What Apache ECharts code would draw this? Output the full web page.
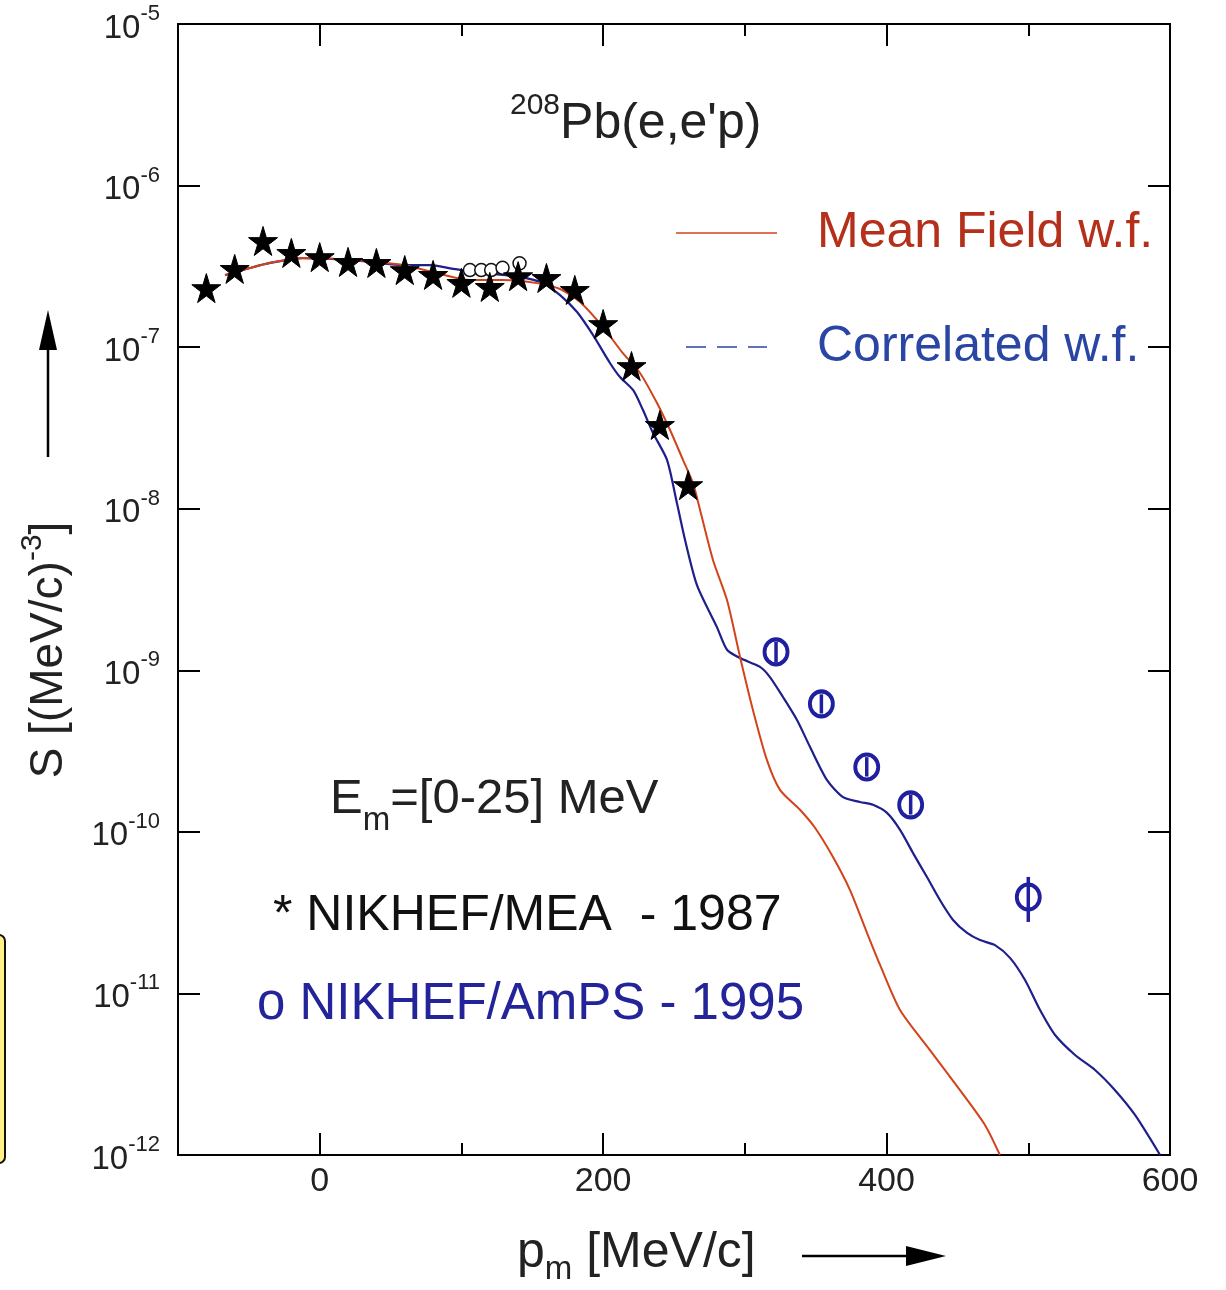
<!DOCTYPE html>
<html>
<head>
<meta charset="utf-8">
<script src="https://cdn.jsdelivr.net/npm/echarts@6/dist/echarts.min.js"></script>
<style>
html,body{margin:0;padding:0;background:#fff;}
#chart{width:1226px;height:1290px;}
</style>
</head>
<body>
<div id="chart"></div>
<script>
// ---------- data ----------
const xTickMajor = [0, 200, 400, 600];
const xTickMinor = [100, 300, 500];
const yTicks = [1e-12, 1e-11, 1e-10, 1e-9, 1e-8, 1e-7, 1e-6, 1e-5];
const legendNames = ['Mean Field w.f.', 'Correlated w.f.'];

// Mean Field w.f. (red)
const mfX = [-66.8, -49.2, -35.1, -11.8, 23.5, 58.8, 82.8, 106.0, 129.3, 153.3, 169.6, 183.7, 199.9, 213.3, 226.0, 238.0, 247.2, 256.4, 263.4, 268.4, 277.5, 287.4, 296.6, 305.7, 315.6, 324.8, 338.9, 349.5, 362.2, 374.2, 386.2, 395.4, 409.5, 430.6, 451.8, 469.5, 480.0];
const mfY = [2.79e-7, 3.09e-7, 3.32e-7, 3.56e-7, 3.46e-7, 3.22e-7, 2.87e-7, 2.60e-7, 2.60e-7, 2.49e-7, 2.29e-7, 1.90e-7, 1.33e-7, 9.33e-8, 6.92e-8, 4.51e-8, 3.07e-8, 2.00e-8, 1.44e-8, 9.81e-9, 4.82e-9, 2.72e-9, 1.21e-9, 5.68e-10, 2.78e-10, 1.82e-10, 1.37e-10, 1.06e-10, 6.98e-11, 4.36e-11, 2.37e-11, 1.50e-11, 7.89e-12, 4.46e-12, 2.52e-12, 1.53e-12, 1.0e-12];

// Correlated w.f. (blue)
const corX = [-66.8, -49.2, -35.1, -11.8, 23.5, 58.8, 77.8, 94.1, 118.0, 141.3, 157.6, 169.6, 181.6, 192.8, 204.8, 211.9, 221.1, 228.1, 235.2, 245.1, 252.1, 257.8, 266.2, 280.3, 287.4, 296.6, 310.7, 317.7, 326.9, 336.8, 346.0, 358.0, 369.3, 381.3, 390.4, 400.3, 409.5, 418.7, 428.5, 437.7, 446.9, 456.8, 465.9, 476.5, 487.1, 497.7, 508.3, 518.9, 533.0, 547.1, 561.2, 575.3, 593.0];
const corY = [2.79e-7, 3.09e-7, 3.32e-7, 3.56e-7, 3.46e-7, 3.22e-7, 3.22e-7, 3.05e-7, 2.87e-7, 2.72e-7, 2.49e-7, 2.10e-7, 1.65e-7, 1.19e-7, 7.98e-8, 6.53e-8, 5.43e-8, 4.08e-8, 2.94e-8, 2.00e-8, 1.08e-8, 6.40e-9, 3.37e-9, 1.85e-9, 1.34e-9, 1.19e-9, 1.05e-9, 9.08e-10, 6.83e-10, 4.92e-10, 3.35e-10, 2.09e-10, 1.64e-10, 1.53e-10, 1.47e-10, 1.31e-10, 1.03e-10, 7.39e-11, 5.25e-11, 3.78e-11, 2.85e-11, 2.37e-11, 2.14e-11, 1.99e-11, 1.66e-11, 1.21e-11, 7.89e-12, 5.53e-12, 4.16e-12, 3.36e-12, 2.52e-12, 1.77e-12, 1.0e-12];

// NIKHEF/MEA 1987 (stars)
const meaX = [-80, -60, -40, -20, 0, 20, 40, 60, 80, 100, 120, 140, 160, 180, 200, 220, 240, 260];
const meaY = [2.32e-7, 3.05e-7, 4.54e-7, 3.83e-7, 3.61e-7, 3.37e-7, 3.32e-7, 3.0e-7, 2.8e-7, 2.5e-7, 2.36e-7, 2.75e-7, 2.68e-7, 2.26e-7, 1.39e-7, 7.64e-8, 3.3e-8, 1.40e-8];

// low-momentum open circles
const lowX = [106, 114, 121, 129, 141];
const lowY = [3.0e-7, 3.0e-7, 3.0e-7, 3.1e-7, 3.3e-7];

// NIKHEF/AmPS 1995 (blue circles with error bars)
const ampsX = [322, 354, 386, 417, 500];
const ampsY = [1.30e-9, 6.2e-10, 2.52e-10, 1.47e-10, 3.95e-11];
const ampsLo = [1.12e-9, 5.4e-10, 2.2e-10, 1.28e-10, 2.77e-11];
const ampsHi = [1.5e-9, 7.1e-10, 2.9e-10, 1.7e-10, 5.26e-11];

// ---------- chart ----------
const FONT = 'Liberation Sans, Arial, Helvetica, sans-serif';
const RED = '#d2431a';
const RED_TXT = '#b5301a';
const BLUE = '#1f1f8c';
const BLUE_TXT = '#2a45a3';
const AMPS = '#1f1fa0';
const zip = (a, b) => a.map((v, i) => [v, b[i]]);
const STAR = 'path://M50,0 L61,35 L98,35 L68,57 L79,91 L50,70 L21,91 L32,57 L2,35 L39,35 Z';

const chart = echarts.init(document.getElementById('chart'), null, {renderer: 'canvas'});

const yLabelFmt = v => '{b|10}{s|' + Math.round(Math.log10(v)) + '}';

function xAxisDef(pos, ticks, len, labels) {
  return {
    type: 'value', min: -100, max: 600, position: pos,
    axisLine: {show: true, onZero: false, lineStyle: {color: '#000', width: 2}},
    axisTick: {show: true, inside: true, length: len, customValues: ticks, lineStyle: {color: '#000', width: 2}},
    axisLabel: labels ? {show: true, customValues: xTickMajor, fontSize: 34, color: '#222', fontFamily: FONT, margin: 10} : {show: false},
    splitLine: {show: false}
  };
}
function yAxisDef(pos, labels) {
  return {
    type: 'log', logBase: 10, min: 1e-12, max: 1e-5, position: pos,
    axisLine: {show: true, onZero: false, lineStyle: {color: '#000', width: 2}},
    axisTick: {show: true, inside: true, length: 22, customValues: yTicks, lineStyle: {color: '#000', width: 2}},
    minorTick: {show: false},
    axisLabel: labels ? {
      show: true, customValues: yTicks, formatter: yLabelFmt, margin: 18, color: '#222',
      rich: {
        b: {fontSize: 33, fontFamily: FONT, color: '#222', lineHeight: 42, verticalAlign: 'bottom'},
        s: {fontSize: 22, fontFamily: FONT, color: '#222', lineHeight: 42, verticalAlign: 'top'}
      }
    } : {show: false},
    splitLine: {show: false}
  };
}

const NW = 'normal';
const option = {
  backgroundColor: '#fff',
  animation: false,
  grid: {left: 178, right: 56, top: 24, bottom: 135, containLabel: false},
  xAxis: [
    xAxisDef('bottom', xTickMajor, 22, true),
    xAxisDef('bottom', xTickMinor, 12, false),
    xAxisDef('top', xTickMajor, 22, false),
    xAxisDef('top', xTickMinor, 12, false)
  ],
  yAxis: [yAxisDef('left', true), yAxisDef('right', false)],
  title: [
    {
      text: '{s|208}{m|Pb(e,e\'p)}', left: 505, top: 86,
      textStyle: {fontWeight: NW, rich: {
        s: {fontSize: 30, fontWeight: NW, fontFamily: FONT, color: '#222', lineHeight: 58, verticalAlign: 'top'},
        m: {fontSize: 50, fontWeight: NW, fontFamily: FONT, color: '#222', lineHeight: 58, verticalAlign: 'bottom'}
      }}
    },
    {
      text: '{n|E}{b|m}{n|=[0-25] MeV}', left: 325, top: 770,
      textStyle: {fontWeight: NW, rich: {
        n: {fontSize: 49, fontWeight: NW, fontFamily: FONT, color: '#222', lineHeight: 62, verticalAlign: 'top'},
        b: {fontSize: 33, fontWeight: NW, fontFamily: FONT, color: '#222', lineHeight: 62, verticalAlign: 'bottom'}
      }}
    },
    {
      text: '* NIKHEF/MEA  - 1987', left: 268, top: 886,
      textStyle: {fontSize: 50, fontFamily: FONT, color: '#111', fontWeight: NW}
    },
    {
      text: 'o NIKHEF/AmPS - 1995', left: 252, top: 974,
      textStyle: {fontSize: 51, fontFamily: FONT, color: '#23239a', fontWeight: NW}
    }
  ],
  graphic: [
    // legend
    {type: 'line', shape: {x1: 676, y1: 233, x2: 777, y2: 233}, style: {stroke: RED, lineWidth: 1.6}},
    {type: 'text', x: 817, y: 233, style: {text: legendNames[0], fontSize: 50, fontFamily: FONT, fill: RED_TXT, verticalAlign: 'middle'}},
    {type: 'line', shape: {x1: 686, y1: 347, x2: 767, y2: 347}, style: {stroke: BLUE_TXT, lineWidth: 1.6, lineDash: [20, 11]}},
    {type: 'text', x: 817, y: 347, style: {text: legendNames[1], fontSize: 50, fontFamily: FONT, fill: BLUE_TXT, verticalAlign: 'middle'}},
    // axis names + arrows
    {type: 'text', x: 45, y: 650, rotation: Math.PI / 2,
      style: {text: '{n|S [(MeV/c)}{s|-3}{n|]}', align: 'center', verticalAlign: 'middle',
        rich: {
          n: {fontSize: 46, fontFamily: FONT, fill: '#222', lineHeight: 54, verticalAlign: 'bottom'},
          s: {fontSize: 30, fontFamily: FONT, fill: '#222', lineHeight: 54, verticalAlign: 'top'}
        }}},
    {type: 'line', shape: {x1: 48, y1: 457, x2: 48, y2: 345}, style: {stroke: '#000', lineWidth: 2.5}},
    {type: 'polygon', shape: {points: [[48, 310], [39, 350], [57, 350]]}, style: {fill: '#000'}},
    {type: 'text', x: 517, y: 1228,
      style: {text: '{n|p}{b|m}{n| [MeV/c]}',
        rich: {
          n: {fontSize: 50, fontFamily: FONT, fill: '#222', lineHeight: 58, verticalAlign: 'top'},
          b: {fontSize: 33, fontFamily: FONT, fill: '#222', lineHeight: 58, verticalAlign: 'bottom'}
        }}},
    {type: 'line', shape: {x1: 802, y1: 1256, x2: 915, y2: 1256}, style: {stroke: '#000', lineWidth: 2.5}},
    {type: 'polygon', shape: {points: [[946, 1256], [906, 1246], [906, 1266]]}, style: {fill: '#000'}},
    {type: 'rect', shape: {x: -20, y: 935, width: 25, height: 228, r: 6}, style: {fill: '#fff185', stroke: '#111', lineWidth: 2}}
  ],
  series: [
    {
      name: legendNames[1], type: 'line', xAxisIndex: 0, yAxisIndex: 0,
      data: zip(corX, corY), showSymbol: false, symbol: 'none', smooth: 0.25,
      lineStyle: {color: BLUE, width: 2.2}, itemStyle: {color: BLUE}, z: 3
    },
    {
      name: legendNames[0], type: 'line', xAxisIndex: 0, yAxisIndex: 0,
      data: zip(mfX, mfY), showSymbol: false, symbol: 'none', smooth: 0.25,
      lineStyle: {color: RED, width: 2}, itemStyle: {color: RED}, z: 4
    },
    {
      name: 'NIKHEF/AmPS low', type: 'scatter', xAxisIndex: 0, yAxisIndex: 0,
      data: zip(lowX, lowY), symbol: 'circle', symbolSize: 13,
      itemStyle: {color: '#fff', borderColor: '#111', borderWidth: 1.5, opacity: 1}, z: 5
    },
    {
      name: 'NIKHEF/MEA - 1987', type: 'scatter', xAxisIndex: 0, yAxisIndex: 0,
      data: zip(meaX, meaY), symbol: STAR, symbolSize: 29,
      itemStyle: {color: '#000', borderColor: '#000', borderWidth: 1, opacity: 1}, z: 6
    },
    {
      name: 'NIKHEF/AmPS - 1995', type: 'scatter', xAxisIndex: 0, yAxisIndex: 0,
      data: zip(ampsX, ampsY), symbol: 'circle', symbolSize: [23, 25],
      itemStyle: {color: '#fff', borderColor: AMPS, borderWidth: 4, opacity: 1}, z: 7
    },
    {
      name: 'AmPS error', type: 'custom', xAxisIndex: 0, yAxisIndex: 0,
      data: ampsX.map((x, i) => [x, ampsLo[i], ampsHi[i]]),
      encode: {x: 0, y: [1, 2]},
      renderItem: (params, api) => {
        const p1 = api.coord([api.value(0), api.value(1)]);
        const p2 = api.coord([api.value(0), api.value(2)]);
        return {type: 'line', shape: {x1: p1[0], y1: p1[1], x2: p2[0], y2: p2[1]}, style: {stroke: AMPS, lineWidth: 3.5}};
      },
      z: 8
    }
  ]
};
chart.setOption(option);
</script>
</body>
</html>
